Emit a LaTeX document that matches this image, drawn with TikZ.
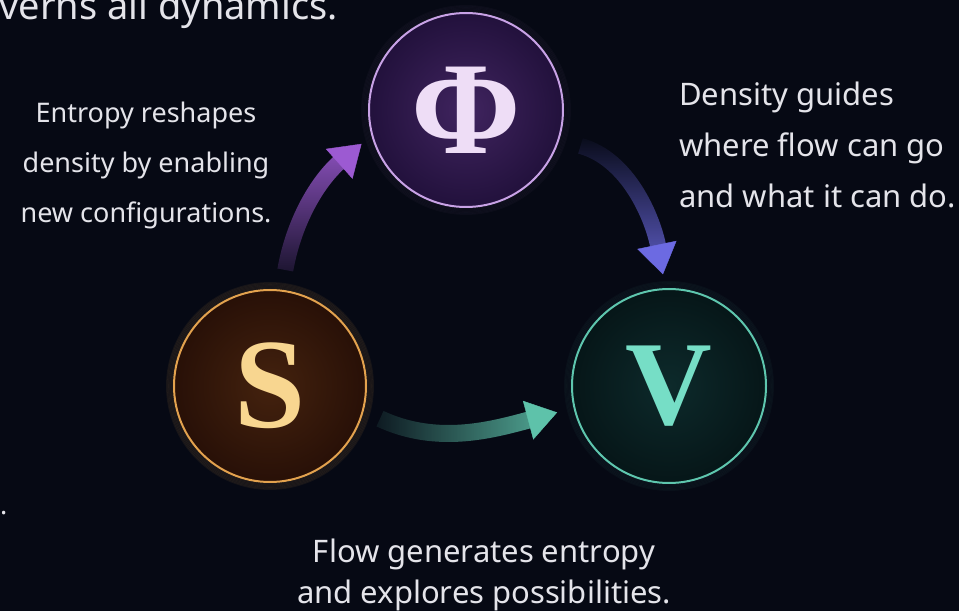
\documentclass[tikz,border=0pt]{standalone}
\usepackage{fontspec}
\usetikzlibrary{arrows.meta,fadings,decorations.markings}
\newfontfamily\labelfont{Noto Sans}
\newfontfamily\letterfont{Liberation Serif}
\definecolor{bgc}{HTML}{060914}
\definecolor{txt}{HTML}{E4E4EA}
\definecolor{phiL}{HTML}{EEDDF6}
\definecolor{phiB}{HTML}{C8A2E6}
\definecolor{phiIn}{HTML}{40245F}
\definecolor{phiOut}{HTML}{22113C}
\definecolor{sL}{HTML}{F8D690}
\definecolor{sB}{HTML}{E3A24E}
\definecolor{sIn}{HTML}{44220E}
\definecolor{sOut}{HTML}{281007}
\definecolor{vL}{HTML}{76DEC6}
\definecolor{vB}{HTML}{5EC6AE}
\definecolor{vIn}{HTML}{0D2A2B}
\definecolor{vOut}{HTML}{061618}
\definecolor{arrP}{HTML}{9C5AD2}
\definecolor{arrB}{HTML}{6C6AE2}
\definecolor{arrT}{HTML}{5EC2AA}
\tikzfading[name=tailleft, left color=transparent!100, middle color=transparent!10, right color=transparent!0]
\tikzfading[name=tailbottom, bottom color=transparent!100, middle color=transparent!10, top color=transparent!0]
\tikzfading[name=tailtop, top color=transparent!100, middle color=transparent!5, bottom color=transparent!0]
\begin{document}
\begin{tikzpicture}[x=1pt,y=1pt,
  lbl/.style={text=txt, inner sep=0pt},
  ring/.style={circle, minimum size=#1, inner sep=0pt, line width=2pt},
  shaft/.style={line width=16pt},
  tipmark/.style 2 args={decorate, decoration={markings,
      mark=at position #2 with {\arrow[#1]{Triangle[width=40pt,length=30pt]}}}},
  glow/.style={line width=1.5pt, opacity=0.03}
]
\fill[bgc] (0,0) rectangle (959,611);
\useasboundingbox (0,0) rectangle (959,611);

% glows
\foreach \k in {1,...,6}{
  \draw[glow, phiB] (466,501) circle ({97+1.2*\k});
  \draw[glow, sB, opacity=0.08] (270,225) circle ({96+1.2*\k});
  \draw[glow, vB, opacity=0.04] (669,225) circle ({97+1.2*\k});
}

% circles
\node[ring=194, draw=phiB, inner color=phiIn, outer color=phiOut,
      font=\letterfont\bfseries\fontsize{132}{132}\selectfont, text=phiL] (Phi) at (466,501) {Φ};
\node[ring=192, draw=sB, inner color=sIn, outer color=sOut,
      font=\letterfont\bfseries\fontsize{128}{128}\selectfont, text=sL] (S) at (270,225) {S};
\node[ring=194, draw=vB, inner color=vIn, outer color=vOut,
      font=\letterfont\bfseries\fontsize{120}{120}\selectfont, text=vL] (V) at (669,225) {V};

% connectors: faded shaft + solid head
\draw[shaft, arrP, path fading=tailbottom, shorten <=20pt, shorten >=39pt]
  (S.83) to[out=80, in=220] (Phi.195);
\path[tipmark={arrP}{-13pt}] (S.83) to[out=80, in=220] (Phi.195);

\draw[shaft, arrB, path fading=tailtop, shorten <=22pt, shorten >=40pt]
  (Phi.-18) to[out=-15, in=100] (V.92);
\path[tipmark={arrB}{-14pt}] (Phi.-18) to[out=-15, in=100] (V.92);

\draw[shaft, arrT, line width=17pt, path fading=tailleft, shorten <=18pt, shorten >=43pt]
  (S.-15) to[out=-25, in=195] (V.193);
\path[tipmark={arrT}{-17pt}] (S.-15) to[out=-25, in=195] (V.193);

% texts
\node[lbl, font=\labelfont\fontsize{38}{44}\selectfont, anchor=base east] (top) at (338,591) {verns all dynamics.};
\node[lbl, font=\labelfont\fontsize{27}{50}\selectfont, anchor=base west] (dot) at (0,96) {.};
\node[lbl, font=\labelfont\fontsize{27}{50}\selectfont, align=center, anchor=north] (tS) at (146,509.5)
  {Entropy reshapes\\density by enabling\\new configurations.};
\node[lbl, font=\labelfont\fontsize{31}{51}\selectfont, align=left, anchor=north west] (tPhi) at (679,529.5)
  {Density guides\\where flow can go\\and what it can do.};
\node[lbl, font=\labelfont\fontsize{31}{41}\selectfont, align=center, anchor=north] (tV) at (484,72.5)
  {Flow generates entropy\\and explores possibilities.};
\end{tikzpicture}
\end{document}
